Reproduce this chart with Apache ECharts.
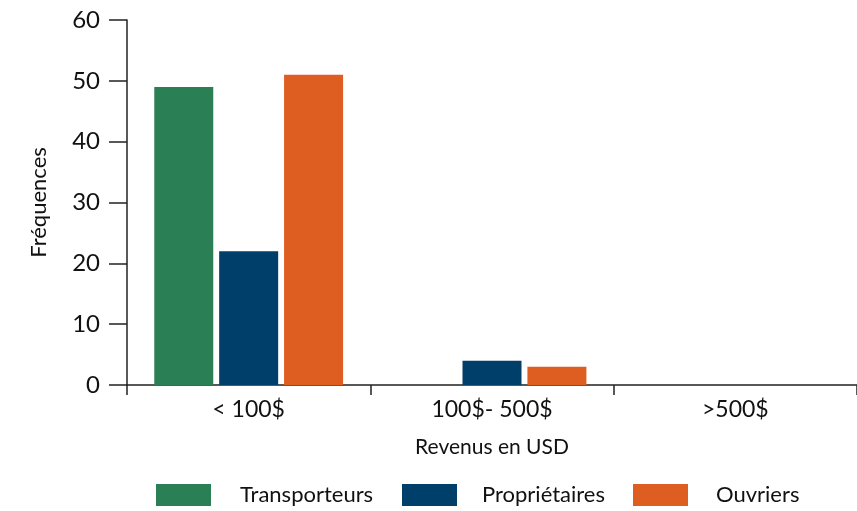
<!DOCTYPE html>
<html><head><meta charset="utf-8">
<script src="https://cdn.jsdelivr.net/npm/echarts@6/dist/echarts.min.js"></script>
<style>html,body{margin:0;padding:0;background:#fff}#c{width:857px;height:511px}</style>
</head><body><div id="c"></div>
<script>
const categories = ['< 100$', '100$- 500$', '>500$'];
const transporteurs = [49, 0, 0];
const proprietaires = [22, 4, 0];
const ouvriers = [51, 3, 0];
const seriesNames = ['Transporteurs', 'Propriétaires', 'Ouvriers'];
const colors = ['#2B7F54', '#013F6B', '#DE5E21'];
const yTicks = [0, 60, 10];

const FONT = 'Lato';
const chart = echarts.init(document.getElementById('c'));
function legendAt(i, left, top, pad) {
  return {
    data: [seriesNames[i]], left: left, top: top, padding: 0, itemWidth: 55, itemHeight: 22,
    icon: 'rect', selectedMode: false,
    textStyle: { fontFamily: FONT, fontSize: 22, color: '#111', padding: pad }
  };
}
chart.setOption({
  animation: false,
  color: colors,
  grid: { left: 127, right: 0, top: 20, bottom: 126, containLabel: false },
  legend: [legendAt(0, 156, 484, [0, 0, 0, 24]), legendAt(1, 402, 484, [0, 0, 0, 20]), legendAt(2, 633, 484, [5, 0, 0, 23])],
  xAxis: {
    type: 'category', data: categories,
    name: 'Revenus en USD', nameLocation: 'middle', nameGap: 52,
    nameTextStyle: { fontFamily: FONT, fontSize: 21, color: '#111' },
    axisLine: { lineStyle: { color: '#222', width: 1.5 } },
    axisTick: { show: true, length: 10, alignWithLabel: false, lineStyle: { color: '#222', width: 1.5 } },
    axisLabel: { fontFamily: FONT, fontSize: 23, color: '#111', margin: 13 }
  },
  yAxis: {
    type: 'value', min: yTicks[0], max: yTicks[1], interval: yTicks[2],
    name: 'Fréquences', nameLocation: 'middle', nameGap: 77, nameRotate: 90,
    nameTextStyle: { fontFamily: FONT, fontSize: 22, color: '#111' },
    axisLine: { show: true, lineStyle: { color: '#222', width: 1.5 } },
    axisTick: { show: true, length: 18, lineStyle: { color: '#222', width: 1.5 } },
    axisLabel: { fontFamily: FONT, fontSize: 24, color: '#111', margin: 27 },
    splitLine: { show: false }
  },
  series: [
    { name: seriesNames[0], type: 'bar', data: transporteurs, barWidth: 59, barGap: '10%' },
    { name: seriesNames[1], type: 'bar', data: proprietaires, barWidth: 59, barGap: '10%' },
    { name: seriesNames[2], type: 'bar', data: ouvriers, barWidth: 59, barGap: '10%' }
  ]
});
</script></body></html>
